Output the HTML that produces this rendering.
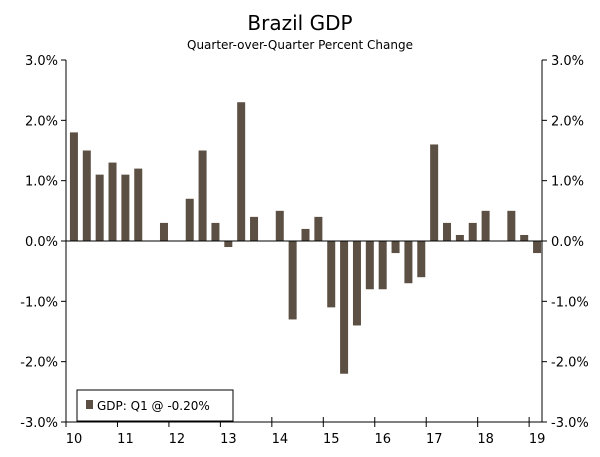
<!DOCTYPE html>
<html><head><meta charset="utf-8"><style>
body{margin:0;background:#fff;}
svg text{font-family:"DejaVu Sans","Liberation Sans",sans-serif;fill:#000;}
</style></head><body>
<svg id="c" width="600" height="452" xmlns="http://www.w3.org/2000/svg">
<text x="300" y="30" font-size="20" text-anchor="middle">Brazil GDP</text>
<text x="300" y="49" font-size="12" text-anchor="middle">Quarter-over-Quarter Percent Change</text>
<g id="grid"></g><g id="bars"></g><g id="axes"></g>
<g>
<rect x="77" y="390" width="156" height="31" fill="#fff" stroke="#000" stroke-width="1"/>
<rect x="86" y="400" width="7" height="9" fill="#5c4f43"/>
<text x="97" y="410" font-size="12">GDP: Q1 @ -0.20%</text>
</g>
</svg>
<script>
const years=["10","11","12","13","14","15","16","17","18","19"];
const gdp=[1.8,1.5,1.1,1.3,1.1,1.2,0,0.3,0,0.7,1.5,0.3,-0.1,2.3,0.4,0,0.5,-1.3,0.2,0.4,-1.1,-2.2,-1.4,-0.8,-0.8,-0.2,-0.7,-0.6,1.6,0.3,0.1,0.3,0.5,0,0.5,0.1,-0.2];
const yTicks=[3,2,1,0,-1,-2,-3];
const L=66,R=542,T=60,B=422,qw=(R-L)/37;
const y=v=>T+(3-v)/6*(B-T);
const xq=i=>L+qw*(i+0.5)+1.5;
const NS="http://www.w3.org/2000/svg";
function mk(t,a,p){const e=document.createElementNS(NS,t);for(const k in a)e.setAttribute(k,a[k]);p.appendChild(e);return e;}
const ax=document.getElementById('axes'),bars=document.getElementById('bars');
gdp.forEach((v,i)=>{
 const r=mk('rect',{x:xq(i)-4,y:Math.min(y(v),y(0)),width:8,height:Math.abs(y(v)-y(0)),fill:'#5c4f43'},bars);
 
 
});
const frame=mk('path',{d:`M${L} ${T}V${B}H${R}V${T}`,stroke:'#000',fill:'none','stroke-width':1},ax);


const z=mk('line',{x1:L,x2:R,y1:y(0),y2:y(0),stroke:'#000'},ax);


yTicks.forEach(v=>{
 const lab=v.toFixed(1)+'%';
 mk('line',{x1:L-5,x2:L,y1:y(v),y2:y(v),stroke:'#000'},ax);
 mk('line',{x1:R,x2:R+5,y1:y(v),y2:y(v),stroke:'#000'},ax);
 const a=mk('text',{x:L-8,y:y(v)+5,'font-size':13,'text-anchor':'end'},ax);a.textContent=lab;
 
 
 const b=mk('text',{x:R+9,y:y(v)+5,'font-size':13},ax);b.textContent=lab;
 
 
});
years.forEach((s,k)=>{
 const x=L+k*4*qw;
 mk('line',{x1:x,x2:x,y1:B-5,y2:B+5,stroke:'#000'},ax);
 const t=mk('text',{x:x+8,y:B+21,'font-size':13,'text-anchor':'middle'},ax);t.textContent=s;
 
 
});
</script>
</body></html>
